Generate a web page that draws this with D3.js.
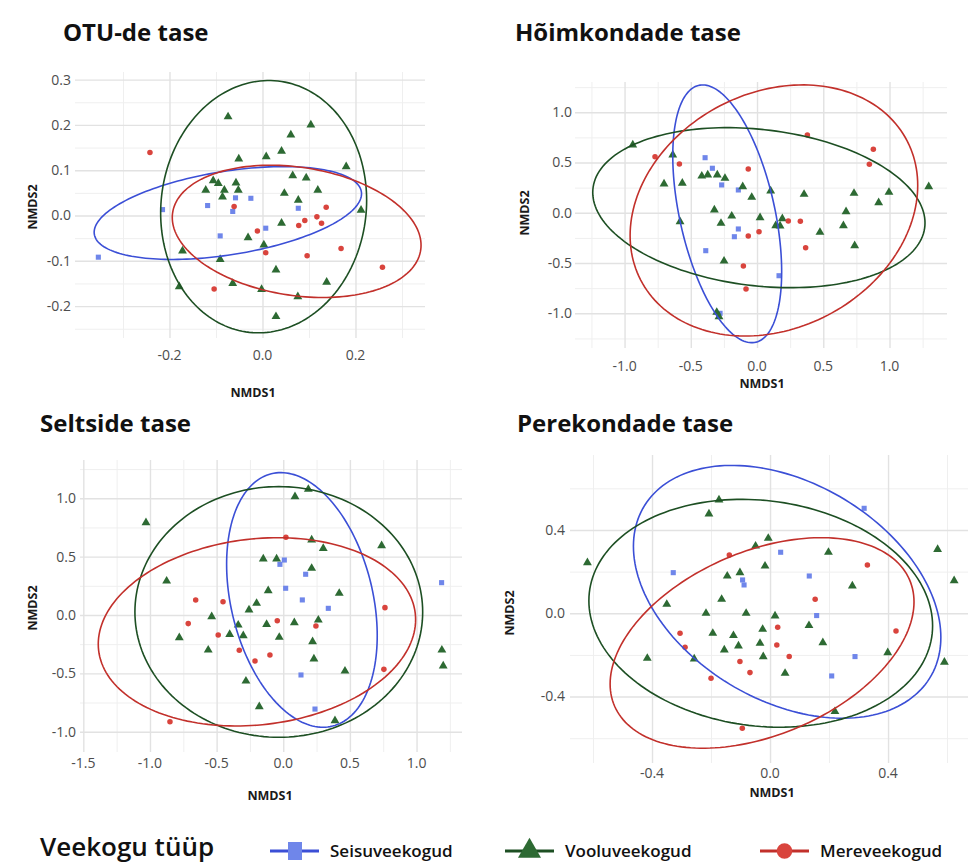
<!DOCTYPE html>
<html>
<head>
<meta charset="utf-8">
<script src="https://cdnjs.cloudflare.com/ajax/libs/d3/7.8.5/d3.min.js"></script>
<style>
body{margin:0;background:#fff;}
text{font-family:"Open Sans",sans-serif;}
</style>
</head>
<body>
<svg id="chart" width="968" height="864"></svg>
<script>
// groups: Seisuveekogud, Vooluveekogud, Mereveekogud
var groups = ["Seisuveekogud","Vooluveekogud","Mereveekogud"];

// --- OTU-de tase ---
var otuSeisu = [[-0.353,-0.092],[-0.215,0.013],[-0.118,0.022],[-0.058,0.039],[-0.064,0.009],[-0.091,-0.045],[-0.025,0.038],[0.077,0.016],[0.007,-0.028]];
var otuVoolu = [[-0.074,0.218],[-0.172,-0.078],[-0.179,-0.157],[-0.091,-0.097],[-0.064,-0.150],[-0.051,0.125],[-0.122,0.056],[-0.106,0.077],[-0.095,0.071],[-0.082,0.056],[-0.086,0.041],[-0.057,0.072],[-0.052,0.056],
  [0.104,0.200],[0.061,0.178],[0.041,0.142],[0.008,0.130],[0.180,0.108],[0.065,0.088],[0.094,0.083],[0.047,0.049],[0.119,0.056],[0.077,0.034],[0.212,0.012],[0.041,-0.017],[-0.031,-0.049],[0.003,-0.065],[0.029,-0.120],[-0.002,-0.163],[0.076,-0.179],[0.138,-0.147],[0.029,-0.223]];
var otuMere = [[-0.242,0.139],[-0.061,0.020],[-0.104,-0.162],[0.137,0.018],[0.117,-0.003],[0.127,-0.017],[0.091,-0.011],[0.078,-0.022],[-0.011,-0.034],[0.007,-0.082],[0.096,-0.089],[0.169,-0.073],[0.258,-0.114]];
// ellipses: [xmin, xmax, ymin, ymax, tilt]
var otuEllipses = [[-0.362,0.213,-0.097,0.108,0.415],[-0.219,0.224,-0.259,0.298,0.05],[-0.194,0.341,-0.181,0.111,-0.21]];
var otuXTicks = [-0.2,0,0.2], otuXLabels = ["-0.2","0.0","0.2"];
var otuYTicks = [-0.2,-0.1,0,0.1,0.2,0.3], otuYLabels = ["-0.2","-0.1","0.0","0.1","0.2","0.3"];

// --- Hõimkondade tase ---
var hoimSeisu = [[-0.392,0.548],[-0.337,0.443],[-0.267,0.277],[-0.141,0.227],[-0.141,-0.161],[-0.171,-0.238],[-0.387,-0.377],[-0.279,-1.0],[0.166,-0.626]];
var hoimVoolu = [[-0.938,0.675],[-0.636,0.575],[-0.702,0.287],[-0.564,0.294],[-0.417,0.366],[-0.372,0.376],[-0.300,0.376],[-0.242,0.343],[-0.108,0.260],[-0.322,0.028],[-0.191,-0.032],[-0.272,-0.104],[-0.581,-0.088],[-0.249,-0.480],[-0.304,-0.990],[-0.287,-1.034],
  [-0.040,0.154],[0.103,0.217],[0.355,0.184],[0.732,0.194],[0.996,0.204],[1.296,0.260],[0.918,0.101],[0.672,0.011],[0.652,-0.128],[0.737,-0.327],[0.475,-0.194],[0.023,-0.049],[0.191,-0.058],[0.141,-0.128],[0.174,-0.131]];
var hoimMere = [[-0.770,0.558],[-0.586,0.486],[-0.066,0.436],[-0.066,-0.231],[-0.103,-0.529],[-0.083,-0.758],[0.236,-0.082],[0.327,-0.085],[0.015,-0.188],[0.367,-0.347],[0.380,0.774],[0.878,0.632],[0.848,0.483]];
var hoimEllipses = [[-0.636,0.186,-1.292,1.272,-0.45],[-1.240,1.268,-0.745,0.847,-0.19],[-0.958,1.213,-1.226,1.272,0.2]];
var hoimXTicks = [-1,-0.5,0,0.5,1], hoimXLabels = ["-1.0","-0.5","0.0","0.5","1.0"];
var hoimYTicks = [-1,-0.5,0,0.5,1], hoimYLabels = ["-1.0","-0.5","0.0","0.5","1.0"];

// --- Seltside tase ---
var seltsSeisu = [[0.008,0.471],[-0.025,0.434],[0.168,0.349],[1.188,0.277],[0.018,0.229],[0.143,0.129],[0.338,0.057],[0.133,-0.514],[0.238,-0.806]];
var seltsVoolu = [[-1.030,0.791],[-0.875,0.291],[-0.537,-0.014],[-0.780,-0.194],[-0.402,-0.166],[-0.338,-0.086],[-0.300,-0.177],[-0.563,-0.300],[-0.280,-0.566],[-0.257,0.043],[-0.200,0.100],[-0.180,-0.786],
  [0.088,1.014],[0.188,1.077],[0.213,0.643],[0.300,0.571],[0.738,0.594],[-0.150,0.480],[-0.050,0.480],[0.213,0.400],[-0.113,0.208],[0.420,0.186],[-0.125,-0.080],[0.083,-0.066],[0.263,-0.043],[-0.030,-0.191],[0.220,-0.229],[0.230,-0.377],[0.463,-0.480],[1.190,-0.300],[1.200,-0.437],[0.388,-0.906]];
var seltsMere = [[-0.657,0.129],[-0.452,0.114],[-0.713,-0.074],[-0.488,-0.171],[-0.330,-0.303],[-0.212,-0.394],[-0.850,-0.914],[0.020,0.666],[0.763,0.063],[-0.045,-0.049],[0.245,-0.094],[-0.100,-0.343],[0.755,-0.466]];
var seltsEllipses = [[-0.425,0.705,-0.962,1.220,-0.28],[-1.113,1.046,-1.048,1.1,0.0],[-1.388,0.993,-0.951,0.662,0.13]];
var seltsXTicks = [-1.5,-1,-0.5,0,0.5,1], seltsXLabels = ["-1.5","-1.0","-0.5","0.0","0.5","1.0"];
var seltsYTicks = [-1,-0.5,0,0.5,1], seltsYLabels = ["-1.0","-0.5","0.0","0.5","1.0"];

// --- Perekondade tase ---
var perekSeisu = [[-0.328,0.195],[0.319,0.504],[0.036,0.293],[-0.093,0.160],[-0.088,0.136],[0.133,0.179],[0.158,-0.011],[0.288,-0.208],[0.209,-0.301]];
var perekVoolu = [[-0.173,0.544],[-0.207,0.477],[-0.619,0.243],[-0.145,0.179],[-0.164,0.067],[-0.350,0.043],[-0.217,0.0],[-0.194,-0.096],[-0.124,-0.107],[-0.155,-0.176],[-0.257,-0.219],[-0.416,-0.216],
  [-0.006,0.360],[-0.049,0.323],[0.198,0.293],[0.568,0.307],[-0.017,0.227],[0.624,0.157],[-0.102,0.195],[0.279,0.131],[-0.081,0.0],[0.017,-0.013],[-0.025,-0.077],[0.132,-0.059],[-0.107,-0.157],[-0.034,-0.144],[0.179,-0.141],[-0.023,-0.208],[0.051,-0.288],[0.399,-0.189],[0.591,-0.235],[0.220,-0.472]];
var perekMere = [[-0.138,0.280],[-0.305,-0.096],[-0.288,-0.163],[-0.200,-0.312],[0.330,0.232],[0.153,0.067],[0.026,-0.067],[0.023,-0.152],[0.427,-0.085],[-0.102,-0.232],[0.065,-0.208],[-0.068,-0.285],[-0.094,-0.552]];
var perekEllipses = [[-0.463,0.579,-0.504,0.71,-0.36],[-0.614,0.551,-0.547,0.547,-0.11],[-0.542,0.488,-0.648,0.363,0.39]];
var perekXTicks = [-0.4,0,0.4], perekXLabels = ["-0.4","0.0","0.4"];
var perekYTicks = [-0.4,0,0.4], perekYLabels = ["-0.4","0.0","0.4"];

var pointColor = ["#6f86ea","#2d6a33","#d9443d"];
var lineColor = ["#3b4fd6","#1d4f23","#c2302b"];
var shapes = [d3.symbolSquare, d3.symbolTriangle, d3.symbolCircle];
var shapeSize = [26, 34, 24];

var panels = [
  {title:"OTU-de tase", tx:63, ty:41, box:[75,425,72,338], xd:[-0.4032,0.3495], yd:[-0.2704,0.3168],
   pts:[otuSeisu,otuVoolu,otuMere], ell:otuEllipses, xt:otuXTicks, xl:otuXLabels, yt:otuYTicks, yl:otuYLabels,
   xlabY:360, ylabX:71, t1:[253,397], t2:[33,207]},
  {title:"Hõimkondade tase", tx:515, ty:41, box:[575,947,82,348], xd:[-1.374,1.434], yd:[-1.345,1.301],
   pts:[hoimSeisu,hoimVoolu,hoimMere], ell:hoimEllipses, xt:hoimXTicks, xl:hoimXLabels, yt:hoimYTicks, yl:hoimYLabels,
   xlabY:371, ylabX:572, t1:[762,388], t2:[525,213]},
  {title:"Seltside tase", tx:40, ty:432, box:[80,462,460,752], xd:[-1.525,1.341], yd:[-1.174,1.328],
   pts:[seltsSeisu,seltsVoolu,seltsMere], ell:seltsEllipses, xt:seltsXTicks, xl:seltsXLabels, yt:seltsYTicks, yl:seltsYLabels,
   xlabY:768, ylabX:76, t1:[270,800], t2:[33,608]},
  {title:"Perekondade tase", tx:517, ty:432, box:[570,968,455,763], xd:[-0.678,0.671], yd:[-0.719,0.760],
   pts:[perekSeisu,perekVoolu,perekMere], ell:perekEllipses, xt:perekXTicks, xl:perekXLabels, yt:perekYTicks, yl:perekYLabels,
   xlabY:778, ylabX:565, t1:[772,797], t2:[510,613]}
];

var svg = d3.select("#chart");

function minorsOf(ticks, dom){
  var step = ticks[1]-ticks[0], out = [];
  for (var i=-2; i<ticks.length+1; i++){
    var v = ticks[0]+(i+0.5)*step;
    if (v>dom[0] && v<dom[1]) out.push(v);
  }
  return out;
}

function gridStyle(sel, col, w){
  sel.select(".domain").remove();
  sel.selectAll("line").attr("stroke", col).attr("stroke-width", w);
  sel.selectAll("text").remove();
}

panels.forEach(function(p){
  var x = d3.scaleLinear().domain(p.xd).range([p.box[0],p.box[1]]);
  var y = d3.scaleLinear().domain(p.yd).range([p.box[3],p.box[2]]);
  var w = p.box[1]-p.box[0], h = p.box[3]-p.box[2];
  var g = svg.append("g");

  // grid: minor then major
  g.append("g").attr("transform","translate(0,"+p.box[3]+")")
    .call(d3.axisBottom(x).tickValues(minorsOf(p.xt,p.xd)).tickSize(h).tickSizeOuter(0))
    .call(gridStyle,"#efefef",1)
    .selectAll("line").attr("y2",-h);
  g.append("g").attr("transform","translate("+p.box[0]+",0)")
    .call(d3.axisLeft(y).tickValues(minorsOf(p.yt,p.yd)).tickSize(-w).tickSizeOuter(0))
    .call(gridStyle,"#efefef",1);
  g.append("g").attr("transform","translate(0,"+p.box[3]+")")
    .call(d3.axisBottom(x).tickValues(p.xt).tickSize(h).tickSizeOuter(0))
    .call(gridStyle,"#e2e2e2",1.4)
    .selectAll("line").attr("y2",-h);
  g.append("g").attr("transform","translate("+p.box[0]+",0)")
    .call(d3.axisLeft(y).tickValues(p.yt).tickSize(-w).tickSizeOuter(0))
    .call(gridStyle,"#e2e2e2",1.4);

  // tick labels
  g.selectAll(".xl").data(p.xt).enter().append("text")
    .attr("x",d=>x(d)).attr("y",p.xlabY).attr("text-anchor","middle")
    .attr("font-size",14).attr("fill","#4d4d4d")
    .text((d,i)=>p.xl[i]);
  g.selectAll(".yl").data(p.yt).enter().append("text")
    .attr("x",p.ylabX).attr("y",d=>y(d)).attr("dy","0.35em").attr("text-anchor","end")
    .attr("font-size",14).attr("fill","#4d4d4d")
    .text((d,i)=>p.yl[i]);

  // axis titles
  g.append("text").attr("x",p.t1[0]).attr("y",p.t1[1]).attr("text-anchor","middle")
    .attr("font-size",12.5).attr("font-weight","bold").attr("fill","#1a1a1a").text("NMDS1");
  g.append("text").attr("transform","translate("+p.t2[0]+","+p.t2[1]+") rotate(-90)")
    .attr("text-anchor","middle").attr("dy","0.35em")
    .attr("font-size",12.5).attr("font-weight","bold").attr("fill","#1a1a1a").text("NMDS2");

  // title
  g.append("text").attr("x",p.tx).attr("y",p.ty).attr("font-size",24).attr("font-weight","bold")
    .attr("fill","#111").text(p.title);

  // points
  p.pts.forEach(function(arr,k){
    g.selectAll(".pt"+k).data(arr).enter().append("path")
      .attr("transform",d=>"translate("+x(d[0])+","+y(d[1])+")")
      .attr("d",d3.symbol().type(shapes[k]).size(shapeSize[k]))
      .attr("fill",pointColor[k]);
  });

  // ellipses
  var line = d3.line().curve(d3.curveLinearClosed);
  p.ell.forEach(function(e,k){
    var cx=(e[0]+e[1])/2, A=(e[1]-e[0])/2, cy=(e[2]+e[3])/2, B=(e[3]-e[2])/2, phi=Math.acos(e[4]);
    var pts = d3.range(0,2*Math.PI,Math.PI/90).map(function(t){
      return [x(cx+A*Math.cos(t)), y(cy+B*Math.cos(t-phi))];
    });
    g.append("path").attr("d",line(pts)).attr("fill","none")
      .attr("stroke",lineColor[k]).attr("stroke-width",1.6);
  });
});

// legend
var leg = svg.append("g");
leg.append("text").attr("x",40).attr("y",856).attr("font-size",26).attr("font-weight",600)
  .attr("fill","#111").text("Veekogu tüüp");
var legX = [270,505,760];
groups.forEach(function(name,k){
  var lx = legX[k];
  leg.append("line").attr("x1",lx).attr("x2",lx+49).attr("y1",851).attr("y2",851)
    .attr("stroke",lineColor[k]).attr("stroke-width",3);
  if (k == 0) {
    leg.append("rect").attr("x",lx+18).attr("y",842).attr("width",14).attr("height",18)
      .attr("fill",pointColor[k]);
  } else {
    leg.append("path").attr("transform","translate("+(lx+24.5)+",851)")
      .attr("d",d3.symbol().type(shapes[k]).size([0,230,190][k]))
      .attr("fill",pointColor[k]);
  }
  leg.append("text").attr("x",lx+60).attr("y",857).attr("font-size",17).attr("font-weight",600)
    .attr("fill","#111").text(name);
});
</script>
</body>
</html>
